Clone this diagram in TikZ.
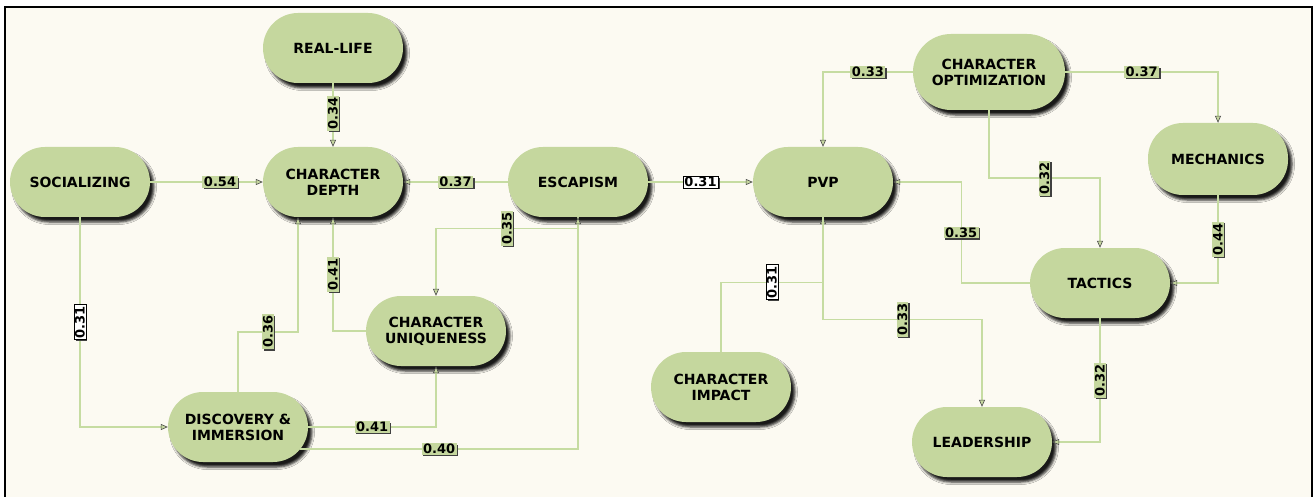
\documentclass[tikz,border=0pt]{standalone}
\usepackage{fontspec}
\setmainfont{DejaVu Sans}
\usetikzlibrary{arrows.meta,calc,shadows,shadows.blur}
\definecolor{nodegreen}{RGB}{197,215,158}
\definecolor{linkgreen}{RGB}{198,220,162}
\definecolor{paper}{RGB}{252,250,242}
\begin{document}
\begin{tikzpicture}[x=1pt,y=-1pt,
  concept/.style={rectangle, rounded corners=35pt, fill=nodegreen,
    minimum width=140pt, minimum height=70pt, inner sep=1pt, align=center,
    font=\bfseries\fontsize{14}{16}\selectfont,
    blur shadow={shadow xshift=4pt, shadow yshift=-5pt,
      shadow blur radius=2.5pt, shadow opacity=90}},
  bigconcept/.style={concept, rounded corners=38pt,
    minimum width=152pt, minimum height=76pt},
  link/.style={draw=linkgreen, line width=1.4pt,
    -{Triangle[length=7pt,width=6pt,fill=nodegreen,color=black!70,line width=0.6pt]}},
  coef/.style={fill=nodegreen, inner xsep=1.5pt, inner ysep=1pt,
    font=\bfseries\fontsize{13}{13}\selectfont,
    drop shadow={shadow xshift=1.5pt, shadow yshift=-1.5pt, fill=black!75, opacity=1}},
  wcoef/.style={coef, fill=white, draw=black, line width=0.6pt},
  vert/.style={rotate=90}
]
\useasboundingbox (0,0) rectangle (1314,497);
\fill[white] (0,0) rectangle (1314,497);
\fill[paper] (5,7) rectangle (1312,510);
\draw[line width=2pt] (5,7) rectangle (1312,510);

% concepts
\node[concept] (rl)   at (333,48)   {REAL-LIFE};
\node[concept] (soc)  at (80,182)   {SOCIALIZING};
\node[concept] (cd)   at (333,182)  {CHARACTER\\DEPTH};
\node[concept] (esc)  at (578,182)  {ESCAPISM};
\node[concept] (pvp)  at (823,182)  {PVP};
\node[bigconcept] (opt) at (989,72) {CHARACTER\\OPTIMIZATION};
\node[concept, minimum height=72pt] (mech) at (1218,159) {MECHANICS};
\node[concept] (tac)  at (1100,283) {TACTICS};
\node[concept] (disc) at (238,427)  {DISCOVERY \&\\IMMERSION};
\node[concept] (uniq) at (436,331)  {CHARACTER\\UNIQUENESS};
\node[concept] (imp)  at (721,387)  {CHARACTER\\IMPACT};
\node[concept] (lead) at (982,442)  {LEADERSHIP};

% links with path coefficients
\draw[link] (rl) -- node[coef, vert, pos=0.47] {0.34} (cd);
\draw[link] (soc) -- node[coef, pos=0.62] {0.54} (cd);
\draw[link] (esc) -- node[coef] {0.37} (cd);
\draw[link] (esc) -- node[wcoef] {0.31} (pvp);
\draw[link] (soc.south) |- node[wcoef, vert, pos=0.25] {0.31} (disc.west);
\draw[link] (disc.north) -- ++(0,-60) -| node[coef, vert, pos=0.25] {0.36} ($(cd.south)+(-35,0)$);
\draw[link] (uniq.west) -| node[coef, vert, pos=0.75] {0.41} (cd.south);
\draw[link] (esc.south) -- ++(0,11) -| node[coef, vert, pos=0.25] {0.35} (uniq.north);
\draw[link] (disc.east) -| node[coef, pos=0.25] {0.41} (uniq.south);
\draw[link] ($(disc.east)+(-8,22)$) -| node[coef, pos=0.25] {0.40} (esc.south);
\draw[link] (opt.west) -| node[coef, pos=0.25] {0.33} (pvp.north);
\draw[link] (opt.east) -| node[coef, pos=0.25] {0.37} (mech.north);
\draw[link] (opt.south) -- ++(0,68) -| node[coef, vert, pos=0.25] {0.32} (tac.north);
\draw[link] (tac.west) -| node[coef, pos=0.75] {0.35} ($(pvp.east)+(68,0)$) -- (pvp.east);
\draw[link] (mech.south) |- node[coef, vert, pos=0.25] {0.44} (tac.east);
\draw[link] (tac.south) |- node[coef, vert, pos=0.25] {0.32} (lead.east);
\draw[link] (imp.north) |- node[wcoef, vert, pos=0.75] {0.31} ($(pvp.south)+(0,65)$) -- (pvp.south);
\draw[link] (pvp.south) -- ++(0,102) -| node[coef, vert, pos=0.25] {0.33} (lead.north);
\end{tikzpicture}
\end{document}
